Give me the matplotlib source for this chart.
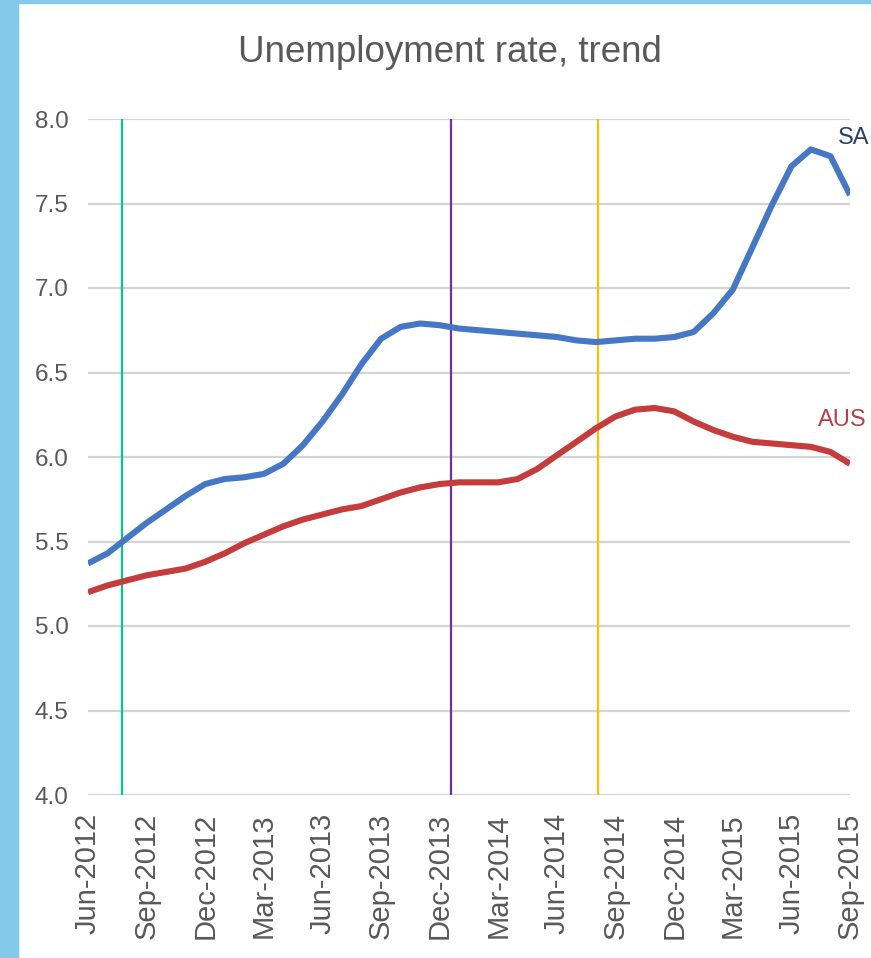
import matplotlib
matplotlib.use('Agg')
import matplotlib.pyplot as plt
from matplotlib.patches import Rectangle

plt.rcParams['font.family'] = ['Liberation Sans', 'DejaVu Sans']

# monthly, Jun-2012 .. Sep-2015
months = ['Jun-2012', 'Jul-2012', 'Aug-2012', 'Sep-2012', 'Oct-2012', 'Nov-2012',
          'Dec-2012', 'Jan-2013', 'Feb-2013', 'Mar-2013', 'Apr-2013', 'May-2013',
          'Jun-2013', 'Jul-2013', 'Aug-2013', 'Sep-2013', 'Oct-2013', 'Nov-2013',
          'Dec-2013', 'Jan-2014', 'Feb-2014', 'Mar-2014', 'Apr-2014', 'May-2014',
          'Jun-2014', 'Jul-2014', 'Aug-2014', 'Sep-2014', 'Oct-2014', 'Nov-2014',
          'Dec-2014', 'Jan-2015', 'Feb-2015', 'Mar-2015', 'Apr-2015', 'May-2015',
          'Jun-2015', 'Jul-2015', 'Aug-2015', 'Sep-2015']
saRate = [5.37, 5.43, 5.52, 5.61, 5.69, 5.77, 5.84, 5.87, 5.88, 5.90,
          5.96, 6.07, 6.21, 6.37, 6.55, 6.70, 6.77, 6.79, 6.78, 6.76,
          6.75, 6.74, 6.73, 6.72, 6.71, 6.69, 6.68, 6.69, 6.70, 6.70,
          6.71, 6.74, 6.85, 6.99, 7.24, 7.49, 7.72, 7.82, 7.78, 7.55]
ausRate = [5.20, 5.24, 5.27, 5.30, 5.32, 5.34, 5.38, 5.43, 5.49, 5.54,
           5.59, 5.63, 5.66, 5.69, 5.71, 5.75, 5.79, 5.82, 5.84, 5.85,
           5.85, 5.85, 5.87, 5.93, 6.01, 6.09, 6.17, 6.24, 6.28, 6.29,
           6.27, 6.21, 6.16, 6.12, 6.09, 6.08, 6.07, 6.06, 6.03, 5.96]
# marker lines, in month positions from Jun-2012
eventMonths = [1.75, 18.6, 26.1]
eventColors = ['#00c98d', '#7030a0', '#ffc000']
yTicks = [4.0, 4.5, 5.0, 5.5, 6.0, 6.5, 7.0, 7.5, 8.0]


def drawChart():
    fig = plt.figure(figsize=(8.71, 9.58), dpi=100)
    # light blue frame of the screenshot
    fig.patches.append(Rectangle((0, 0), 18 / 871, 1, transform=fig.transFigure,
                                 color='#84c9ea', zorder=0))
    fig.patches.append(Rectangle((0, 1 - 3 / 958), 1, 3 / 958, transform=fig.transFigure,
                                 color='#84c9ea', zorder=0))

    ax = fig.add_axes([88 / 871, 1 - 795 / 958, (850 - 88) / 871, (795 - 119) / 958])
    x = list(range(len(months)))

    for m, c in zip(eventMonths, eventColors):
        ax.axvline(m, color=c, lw=1.6, zorder=2)

    ax.plot(x, saRate, color='#4677c4', lw=4.4, solid_capstyle='butt',
            solid_joinstyle='round', zorder=3)
    ax.plot(x, ausRate, color='#c43c3c', lw=4.4, solid_capstyle='butt',
            solid_joinstyle='round', zorder=3)

    ax.text(38.4, 7.89, 'SA', color='#2b3f66', fontsize=17, ha='left', va='center',
            clip_on=False)
    ax.text(37.35, 6.22, 'AUS', color='#b5404a', fontsize=17, ha='left', va='center',
            clip_on=False)

    ax.set_xlim(0, len(months) - 1)
    ax.set_ylim(4.0, 8.0)
    ax.set_yticks(yTicks)
    ax.set_yticklabels([f'{v:.1f}' for v in yTicks])
    ax.set_xticks(x[::3])
    ax.set_xticklabels(months[::3], rotation=90)
    ax.tick_params(axis='both', length=0, colors='#595959')
    ax.tick_params(axis='y', labelsize=17.5, pad=14)
    ax.tick_params(axis='x', labelsize=21, pad=13)
    ax.grid(axis='y', color='#d4d4d4', lw=1.6)
    ax.set_axisbelow(True)
    for s in ax.spines.values():
        s.set_visible(False)

    fig.text(450 / 871, 1 - 52 / 958, 'Unemployment rate, trend', fontsize=26.5,
             color='#595959', ha='center', va='center')
    fig.savefig('out.png', dpi=100)


if __name__ == '__main__':
    drawChart()
